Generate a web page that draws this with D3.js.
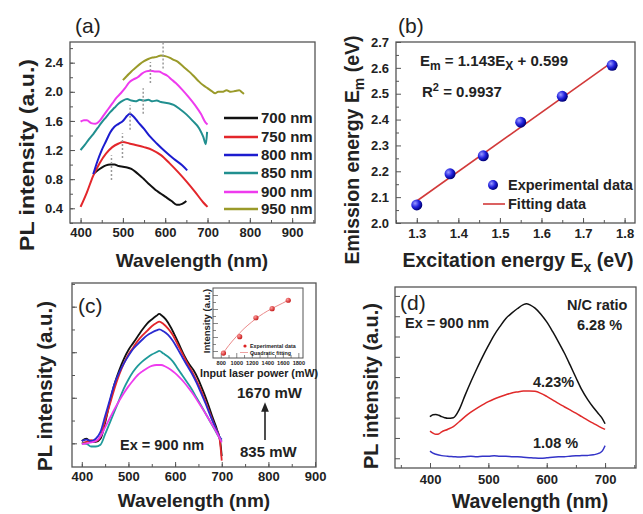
<!DOCTYPE html>
<html><head><meta charset="utf-8">
<script src="https://cdn.jsdelivr.net/npm/d3@7/dist/d3.min.js"></script>
<style>
body{margin:0;background:#fff}
svg{display:block;font-family:"Liberation Sans",Arial,sans-serif}
.tick text{font-weight:bold;fill:#222}
.b{font-weight:bold;fill:#222}
</style></head><body>
<svg id="c" width="643" height="514"></svg>
<script>
// ---------- Panel (a) data: PL spectra at several excitation wavelengths ----------
const aNames = ["700 nm","750 nm","800 nm","850 nm","900 nm","950 nm"];
const aColors = ["#111111","#e3262b","#1c1ccf","#218f8f","#ee3bee","#9a9a2a"];
const a700 = [[430,0.87],[440,0.92],[450,0.96],[460,0.99],[470,1.0],[480,1.0],[490,0.98],[500,0.97],[510,0.96],[520,0.94],[530,0.9],[540,0.85],[550,0.8],[560,0.74],[570,0.69],[580,0.64],[590,0.6],[600,0.56],[615,0.5],[627,0.45],[634,0.45],[640,0.46],[650,0.5]];
const a750 = [[400,0.42],[415,0.62],[430,0.85],[445,1.02],[460,1.15],[475,1.24],[490,1.29],[500,1.31],[515,1.29],[530,1.27],[550,1.24],[570,1.2],[590,1.13],[610,1.02],[630,0.9],[650,0.77],[670,0.63],[690,0.48],[700,0.42]];
const a800 = [[430,0.87],[440,1.05],[450,1.2],[460,1.32],[470,1.44],[480,1.52],[490,1.56],[500,1.6],[510,1.67],[516,1.7],[525,1.66],[535,1.59],[550,1.49],[565,1.38],[580,1.29],[600,1.18],[620,1.08],[640,0.99],[652,0.92]];
const a850 = [[400,1.2],[410,1.27],[420,1.35],[430,1.42],[440,1.5],[450,1.58],[460,1.65],[470,1.72],[480,1.78],[490,1.84],[500,1.88],[510,1.9],[520,1.88],[530,1.87],[540,1.89],[550,1.88],[560,1.89],[570,1.87],[580,1.88],[590,1.86],[600,1.85],[610,1.84],[620,1.82],[635,1.76],[650,1.69],[665,1.6],[680,1.5],[690,1.38],[696,1.28],[699,1.45]];
const a900 = [[400,1.59],[408,1.61],[415,1.61],[425,1.57],[435,1.56],[445,1.6],[455,1.68],[465,1.76],[475,1.84],[485,1.92],[495,1.98],[505,2.05],[515,2.13],[525,2.17],[535,2.2],[545,2.25],[555,2.28],[565,2.29],[575,2.28],[585,2.28],[595,2.25],[605,2.22],[615,2.17],[625,2.12],[640,2.03],[655,1.93],[670,1.82],[685,1.69],[695,1.58],[700,1.55]];
const a950 = [[500,2.16],[510,2.22],[520,2.28],[530,2.33],[540,2.38],[550,2.42],[560,2.45],[570,2.47],[580,2.48],[590,2.5],[600,2.49],[610,2.47],[620,2.44],[630,2.41],[640,2.36],[650,2.31],[660,2.26],[670,2.2],[680,2.14],[690,2.09],[700,2.05],[710,2.01],[718,1.98],[725,2.0],[735,2.0],[745,2.02],[755,2.0],[765,2.01],[775,2.02],[782,1.99],[786,1.97]];
const aPeakX = [473,499,517,548,565,595];
const aPeakLo = [0.79,1.09,1.48,1.7,2.12,2.32];
const aPeakHi = [1.13,1.43,1.82,2.05,2.41,2.67];
const aXTicks = [400,500,600,700,800,900];
const aYTicks = [0.4,0.8,1.2,1.6,2.0,2.4];

// ---------- Panel (b) data ----------
const bEx = [1.30,1.38,1.46,1.55,1.65,1.77];
const bEm = [2.07,2.19,2.26,2.39,2.49,2.61];
const bFitX = [1.30,1.77];
const bFitY = [2.085,2.622];
const bXTicks = [1.3,1.4,1.5,1.6,1.7,1.8];
const bYTicks = [2.0,2.1,2.2,2.3,2.4,2.5,2.6,2.7];

// ---------- Panel (c) data: power series at Ex = 900 nm ----------
const cColors = ["#111111","#e3262b","#2a2ad0","#1f9a9a","#ee3bee"];
const c1670 = [[400,1.05],[410,1.1],[420,1.03],[430,1.03],[440,1.1],[450,1.45],[460,1.9],[470,2.3],[480,2.6],[490,2.85],[500,3.05],[510,3.2],[520,3.35],[530,3.5],[540,3.63],[550,3.72],[560,3.8],[566,3.84],[572,3.8],[580,3.72],[590,3.56],[600,3.36],[610,3.14],[620,2.92],[630,2.74],[640,2.6],[650,2.4],[660,2.15],[670,1.88],[680,1.58],[690,1.3],[697,1.02],[700,0.72]];
const c1460 = [[400,1.0],[410,1.03],[420,1.07],[430,1.05],[440,1.15],[450,1.5],[460,1.85],[470,2.2],[480,2.5],[490,2.75],[500,2.95],[510,3.1],[520,3.25],[530,3.37],[540,3.47],[550,3.57],[560,3.64],[566,3.67],[575,3.62],[585,3.52],[595,3.38],[605,3.18],[615,2.98],[625,2.78],[635,2.6],[645,2.4],[655,2.18],[665,1.92],[675,1.65],[685,1.38],[695,1.12],[700,0.62]];
const c1250 = [[400,1.05],[410,1.08],[420,1.05],[430,1.1],[440,1.25],[450,1.6],[460,1.95],[470,2.3],[480,2.55],[490,2.75],[500,2.92],[510,3.07],[520,3.18],[530,3.28],[540,3.37],[550,3.43],[560,3.48],[566,3.5],[575,3.46],[585,3.38],[595,3.25],[605,3.08],[615,2.9],[625,2.72],[635,2.55],[645,2.35],[655,2.12],[665,1.88],[675,1.62],[685,1.38],[695,1.15],[700,1.08]];
const c1040 = [[400,1.0],[410,0.99],[420,0.93],[430,0.93],[440,0.97],[450,1.2],[460,1.45],[470,1.7],[480,1.95],[490,2.2],[500,2.4],[510,2.57],[520,2.7],[530,2.8],[540,2.88],[550,2.95],[560,3.0],[566,3.03],[575,2.97],[585,2.9],[595,2.8],[605,2.65],[615,2.5],[625,2.35],[635,2.2],[645,2.02],[655,1.84],[665,1.66],[675,1.48],[685,1.3],[695,1.12],[700,1.05]];
const c835 = [[400,0.98],[410,1.0],[420,1.02],[430,1.05],[440,1.15],[450,1.35],[460,1.55],[470,1.75],[480,1.93],[490,2.1],[500,2.25],[510,2.38],[520,2.5],[530,2.58],[540,2.65],[550,2.7],[560,2.72],[570,2.72],[580,2.68],[590,2.62],[600,2.54],[610,2.44],[620,2.33],[630,2.2],[640,2.06],[650,1.9],[660,1.74],[670,1.57],[680,1.4],[690,1.22],[700,1.02]];
const cXTicks = [400,500,600,700,800,900];
// inset
const inPower = [835,1044,1253,1462,1670];
const inInt = [0.7,3.05,5.75,7.05,8.25];
const inFitP = [835,900,1000,1100,1200,1300,1400,1500,1600,1670];
const inFitI = [0.75,1.75,3.05,4.2,5.15,6.0,6.7,7.3,7.85,8.25];
const inXTicks = [800,1000,1200,1400,1600,1800];

// ---------- Panel (d) data: N/C ratio series ----------
const dColors = ["#111111","#e02a2a","#3434c8"];
const d628 = [[400,3.05],[405,3.15],[410,3.16],[415,3.12],[420,3.05],[425,3.0],[430,2.97],[440,3.0],[450,3.4],[460,4.1],[470,4.77],[480,5.4],[490,6.0],[500,6.55],[510,7.07],[520,7.5],[530,7.89],[540,8.15],[550,8.38],[560,8.57],[565,8.62],[572,8.55],[580,8.4],[590,8.1],[600,7.72],[610,7.25],[620,6.74],[630,6.2],[640,5.6],[650,4.98],[660,4.38],[670,3.9],[680,3.5],[690,3.15],[695,2.97],[700,2.7]];
const d423 = [[400,2.34],[405,2.24],[410,2.18],[415,2.2],[420,2.3],[430,2.42],[440,2.56],[450,2.8],[460,3.05],[470,3.27],[480,3.46],[490,3.63],[500,3.79],[510,3.92],[520,4.03],[530,4.13],[540,4.22],[550,4.27],[560,4.31],[570,4.32],[580,4.3],[590,4.2],[600,4.05],[610,3.88],[620,3.7],[630,3.54],[640,3.38],[650,3.22],[660,3.05],[670,2.88],[680,2.72],[690,2.56],[700,2.42]];
const d108 = [[400,1.35],[405,1.25],[410,1.2],[420,1.13],[430,1.1],[440,1.08],[450,1.06],[460,1.08],[470,1.1],[480,1.08],[490,1.1],[500,1.1],[510,1.12],[520,1.1],[530,1.1],[540,1.08],[550,1.07],[560,1.05],[570,1.03],[580,1.01],[590,1.0],[600,1.02],[610,1.05],[620,1.07],[630,1.08],[640,1.1],[650,1.12],[660,1.13],[670,1.14],[680,1.17],[690,1.25],[695,1.35],[700,1.62]];
const dXTicks = [400,500,600,700];

// ================= drawing =================
const svg = d3.select("#c");
svg.append("rect").attr("width",643).attr("height",514).attr("fill","#fff");
const defs = svg.append("defs");
const gb = defs.append("radialGradient").attr("id","ballB").attr("cx","35%").attr("cy","35%").attr("r","65%");
gb.append("stop").attr("offset","0%").attr("stop-color","#9a9aff");
gb.append("stop").attr("offset","55%").attr("stop-color","#2323e0");
gb.append("stop").attr("offset","100%").attr("stop-color","#00007a");
const gr = defs.append("radialGradient").attr("id","ballR").attr("cx","35%").attr("cy","35%").attr("r","65%");
gr.append("stop").attr("offset","0%").attr("stop-color","#ff9a9a");
gr.append("stop").attr("offset","100%").attr("stop-color","#c81e1e");
defs.append("marker").attr("id","arr").attr("viewBox","0 0 10 10").attr("refX",5).attr("refY",5)
  .attr("markerWidth",6).attr("markerHeight",7).attr("orient","auto")
  .append("path").attr("d","M0,1 L10,5 L0,9 Z").attr("fill","#222");

function range(a,b,s){const r=[];for(let v=a;v<=b+1e-9;v+=s)r.push(+v.toFixed(4));return r;}

function panel(o){
  const x = d3.scaleLinear().domain(o.xDom).range([o.L,o.R]);
  const y = d3.scaleLinear().domain(o.yDom).range([o.B,o.T]);
  const g = svg.append("g");
  const fs = o.fs||13;
  // minor ticks
  g.append("g").attr("transform",`translate(0,${o.B})`)
    .call(d3.axisBottom(x).tickValues(o.xMinor).tickSize(-3).tickSizeOuter(0).tickFormat(""))
    .call(s=>{s.select(".domain").remove();s.selectAll("line").attr("stroke","#555");});
  g.append("g").attr("transform",`translate(${o.L},0)`)
    .call(d3.axisLeft(y).tickValues(o.yMinor).tickSize(-3).tickSizeOuter(0).tickFormat(""))
    .call(s=>{s.select(".domain").remove();s.selectAll("line").attr("stroke","#555");});
  g.append("g").attr("transform",`translate(0,${o.B})`)
    .call(d3.axisBottom(x).tickValues(o.xTicks).tickSize(-5).tickSizeOuter(0).tickPadding(o.xPad).tickFormat(o.xFmt))
    .call(s=>{s.select(".domain").remove();s.selectAll("line").attr("stroke","#555");
      s.selectAll("text").attr("font-size",fs).attr("font-family",null);});
  g.append("g").attr("transform",`translate(${o.L},0)`)
    .call(d3.axisLeft(y).tickValues(o.yTicks).tickSize(-5).tickSizeOuter(0).tickPadding(o.yPad).tickFormat(o.yFmt))
    .call(s=>{s.select(".domain").remove();s.selectAll("line").attr("stroke","#555");
      s.selectAll("text").attr("font-size",fs).attr("font-family",null);});
  g.append("rect").attr("x",o.L).attr("y",o.T).attr("width",o.R-o.L).attr("height",o.B-o.T)
    .attr("fill","none").attr("stroke","#555").attr("stroke-width",1.3);
  return {g,x,y};
}
function tag(t,x,y){svg.append("text").attr("x",x).attr("y",y).attr("font-size",21).attr("fill","#222").text(t);}
function xlabel(t,cx,by,fs){return svg.append("text").attr("class","b").attr("x",cx).attr("y",by).attr("text-anchor","middle").attr("font-size",fs||19).text(t);}
function ylabel(t,bx,cy,fs,len){
  const e=svg.append("text").attr("class","b").attr("transform",`translate(${bx},${cy}) rotate(-90)`)
    .attr("text-anchor","middle").attr("font-size",fs||20).text(t);
  if(len) e.attr("textLength",len).attr("lengthAdjust","spacingAndGlyphs");
  return e;
}
function txt(t,x,y,fs){return svg.append("text").attr("class","b").attr("x",x).attr("y",y).attr("font-size",fs).text(t);}

// ----- Panel (a) -----
{
  const P = panel({L:70,R:315,T:42,B:223,xDom:[375,954],yDom:[0.198,2.684],
    xTicks:aXTicks,xMinor:range(400,950,50),yTicks:aYTicks,yMinor:range(0.2,2.6,0.2),
    xPad:5,yPad:7,xFmt:d3.format("d"),yFmt:d3.format(".1f")});
  const line = d3.line().x(d=>P.x(d[0])).y(d=>P.y(d[1])).curve(d3.curveMonotoneX);
  [a700,a750,a800,a850,a900,a950].forEach((s,i)=>{
    P.g.append("path").datum(s).attr("d",line).attr("fill","none").attr("stroke",aColors[i]).attr("stroke-width",2);
  });
  aPeakX.forEach((px,i)=>{
    P.g.append("line").attr("x1",P.x(px)).attr("x2",P.x(px)).attr("y1",P.y(aPeakLo[i])).attr("y2",P.y(aPeakHi[i]))
      .attr("stroke","#999").attr("stroke-width",1.5).attr("stroke-dasharray","2,2");
  });
  const ly = [118,137,155,173,192,209];
  aNames.forEach((n,i)=>{
    P.g.append("line").attr("x1",224).attr("x2",258).attr("y1",ly[i]).attr("y2",ly[i]).attr("stroke",aColors[i]).attr("stroke-width",2.5);
    P.g.append("text").attr("class","b").attr("x",261).attr("y",ly[i]+5).attr("font-size",15).text(n);
  });
  tag("(a)",75,33);
  xlabel("Wavelength (nm)",192,267,19);
  ylabel("PL intensity (a.u.)",34,155,20,192);
}

// ----- Panel (b) -----
{
  const P = panel({L:396,R:635,T:42,B:223,xDom:[1.25,1.825],yDom:[2.0,2.7],
    xTicks:bXTicks,xMinor:range(1.25,1.8,0.05),yTicks:bYTicks,yMinor:range(2.05,2.65,0.1),
    xPad:6,yPad:7,xFmt:d3.format(".1f"),yFmt:d3.format(".1f")});
  P.g.append("line").attr("x1",P.x(bFitX[0])).attr("x2",P.x(bFitX[1])).attr("y1",P.y(bFitY[0])).attr("y2",P.y(bFitY[1]))
    .attr("stroke","#d23a3a").attr("stroke-width",1.6);
  P.g.selectAll("circle.pt").data(bEx).enter().append("circle").attr("class","pt")
    .attr("cx",d=>P.x(d)).attr("cy",(d,i)=>P.y(bEm[i])).attr("r",5.5).attr("fill","url(#ballB)");
  const eq = svg.append("text").attr("class","b").attr("x",420).attr("y",66).attr("font-size",15);
  eq.append("tspan").text("E");
  eq.append("tspan").attr("dy",4).attr("font-size",12).text("m");
  eq.append("tspan").attr("dy",-4).text(" = 1.143E");
  eq.append("tspan").attr("dy",4).attr("font-size",12).text("X");
  eq.append("tspan").attr("dy",-4).text(" + 0.599");
  const r2 = svg.append("text").attr("class","b").attr("x",422).attr("y",97).attr("font-size",15);
  r2.append("tspan").text("R");
  r2.append("tspan").attr("dy",-6).attr("font-size",11).text("2");
  r2.append("tspan").attr("dy",6).text(" = 0.9937");
  svg.append("circle").attr("cx",493).attr("cy",185).attr("r",5).attr("fill","url(#ballB)");
  txt("Experimental data",508,190,14.5);
  svg.append("line").attr("x1",483).attr("x2",505).attr("y1",204).attr("y2",204).attr("stroke","#d23a3a").attr("stroke-width",1.6);
  txt("Fitting data",508,209,14.5);
  tag("(b)",398,33);
  const xl = xlabel("",518,267,19.5);
  xl.append("tspan").text("Excitation energy E");
  xl.append("tspan").attr("dy",5).attr("font-size",14).text("x");
  xl.append("tspan").attr("dy",-5).text(" (eV)");
  const yl = ylabel("",359,150,19.5);
  yl.append("tspan").text("Emission energy E");
  yl.append("tspan").attr("dy",5).attr("font-size",14).text("m");
  yl.append("tspan").attr("dy",-5).text(" (eV)");
}

// ----- Panel (c) -----
{
  const P = panel({L:72,R:316,T:283,B:467,xDom:[379,902],yDom:[0.48,4.52],
    xTicks:cXTicks,xMinor:range(400,900,50),yTicks:[1,2,3,4],yMinor:range(1,4.5,0.5),
    xPad:5,yPad:7,xFmt:d3.format("d"),yFmt:()=>""});
  const line = d3.line().x(d=>P.x(d[0])).y(d=>P.y(d[1])).curve(d3.curveMonotoneX);
  [c835,c1040,c1250,c1460,c1670].reverse().forEach((s,i)=>{
    P.g.append("path").datum(s).attr("d",line).attr("fill","none").attr("stroke",cColors[i]).attr("stroke-width",1.8);
  });
  // inset
  const I = panel({L:213,R:303,T:288,B:358,xDom:[700,1860],yDom:[0,10],
    xTicks:inXTicks,xMinor:range(900,1700,200),yTicks:[1,3,5,7,9],yMinor:[2,4,6,8],
    xPad:3,yPad:3,xFmt:d3.format("d"),yFmt:()=>"",fs:5.6});
  I.g.selectAll(".tick line").attr("stroke-width",0.7);
  I.g.select("rect").attr("stroke-width",1);
  const fl = d3.line().x((d,i)=>I.x(d)).y((d,i)=>I.y(inFitI[i])).curve(d3.curveMonotoneX);
  I.g.append("path").datum(inFitP).attr("d",fl).attr("fill","none").attr("stroke","#eb8a8a").attr("stroke-width",1);
  I.g.selectAll("circle").data(inPower).enter().append("circle")
    .attr("cx",d=>I.x(d)).attr("cy",(d,i)=>I.y(inInt[i])).attr("r",2.6).attr("fill","url(#ballR)");
  svg.append("circle").attr("cx",245).attr("cy",346).attr("r",1.6).attr("fill","#d22");
  txt("Experimental data",250,348,5.3).attr("font-weight","normal");
  svg.append("line").attr("x1",240).attr("x2",248).attr("y1",352.5).attr("y2",352.5).attr("stroke","#eb8a8a").attr("stroke-width",0.8);
  txt("Quadratic fitting",250,354.5,5.3).attr("font-weight","normal");
  ylabel("Intensity (a.u.)",210,321,9.5);
  xlabel("Input laser power (mW)",259,377,10.7);
  // annotations
  txt("Ex = 900 nm",120,450,14.5);
  txt("1670 mW",237,398,15);
  txt("835 mW",240,457,15);
  svg.append("line").attr("x1",265).attr("x2",265).attr("y1",440).attr("y2",407)
    .attr("stroke","#222").attr("stroke-width",1.6).attr("marker-end","url(#arr)");
  tag("(c)",78,313);
  xlabel("Wavelength (nm)",194,507,19);
  ylabel("PL intensity (a.u.)",52,386,20,170);
}

// ----- Panel (d) -----
{
  const P = panel({L:395,R:636,T:287,B:468,xDom:[340,753],yDom:[0.52,9.44],
    xTicks:dXTicks,xMinor:range(350,750,50),yTicks:range(1,9,1),yMinor:[],
    xPad:7,yPad:7,xFmt:d3.format("d"),yFmt:()=>""});
  const line = d3.line().x(d=>P.x(d[0])).y(d=>P.y(d[1])).curve(d3.curveMonotoneX);
  [d628,d423,d108].forEach((s,i)=>{
    P.g.append("path").datum(s).attr("d",line).attr("fill","none").attr("stroke",dColors[i]).attr("stroke-width",1.5);
  });
  tag("(d)",400,310);
  txt("Ex = 900 nm",405,328,14.5);
  txt("N/C ratio",567,310,14.5);
  txt("6.28 %",577,330,14.5);
  txt("4.23%",533,387,14.5);
  txt("1.08 %",533,448,14.5);
  xlabel("Wavelength (nm)",530,508,19.5);
  ylabel("PL intensity (a.u.)",378,386,20,166);
}
</script>
</body></html>
